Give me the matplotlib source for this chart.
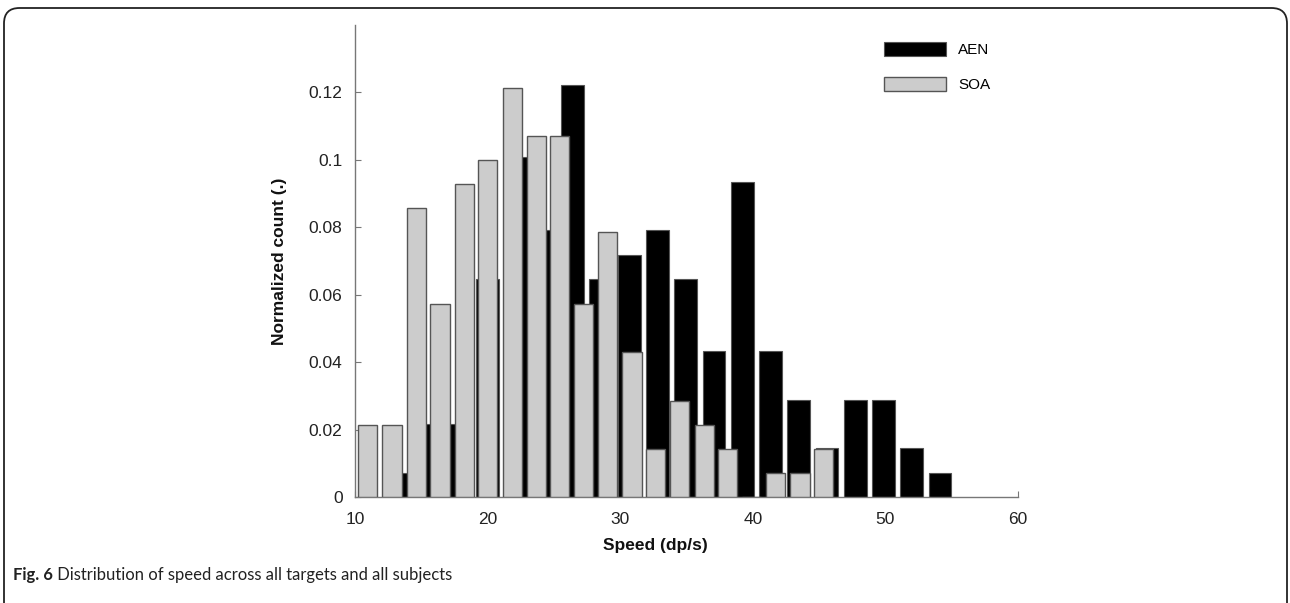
import matplotlib
matplotlib.use("Agg")
import matplotlib.pyplot as plt
from matplotlib.patches import FancyBboxPatch

# ---- data ----
aen_centers = [13.63, 15.76, 17.89, 20.02, 22.15, 24.28, 26.41, 28.54, 30.68, 32.81,
               34.94, 37.07, 39.20, 41.33, 43.46, 45.59, 47.72, 49.85, 51.98, 54.12]
aen_values = [0.0072, 0.0216, 0.0216, 0.0647, 0.1007, 0.0791, 0.1223, 0.0647, 0.0719, 0.0791,
              0.0647, 0.0432, 0.0935, 0.0432, 0.0288, 0.0144, 0.0288, 0.0288, 0.0144, 0.0072]

soa_centers = [10.97, 12.79, 14.62, 16.41, 18.23, 20.02, 21.85, 23.69, 25.42, 27.26,
               29.07, 30.89, 32.65, 34.49, 36.33, 38.09, 39.92, 41.73, 43.56, 45.36]
soa_values = [0.0214, 0.0214, 0.0857, 0.0571, 0.0929, 0.1000, 0.1214, 0.1071, 0.1071, 0.0571,
              0.0786, 0.0429, 0.0143, 0.0286, 0.0214, 0.0143, 0.0, 0.0071, 0.0071, 0.0143]

series_labels = ["AEN", "SOA"]
x_ticks = [10, 20, 30, 40, 50, 60]
y_ticks = [0, 0.02, 0.04, 0.06, 0.08, 0.1, 0.12]
y_tick_labels = ["0", "0.02", "0.04", "0.06", "0.08", "0.1", "0.12"]
x_label = "Speed (dp/s)"
y_label = "Normalized count (.)"
caption_bold = "Fig. 6"
caption_text = " Distribution of speed across all targets and all subjects"

# ---- figure ----
W, H = 1290, 603
fig = plt.figure(figsize=(W / 100, H / 100), dpi=100)
plt.rcParams['font.family'] = ['Liberation Sans', 'DejaVu Sans']

# rounded border around figure
border = FancyBboxPatch((4 / W, -20 / H), (1283 / W), (H - 8 + 20) / H,
                        boxstyle="round,pad=0,rounding_size=0.012",
                        transform=fig.transFigure, fill=False,
                        edgecolor="#222222", linewidth=1.3, mutation_aspect=W / H)
fig.patches.append(border)

ax = fig.add_axes([355 / W, 1 - 497 / H, (1018 - 355) / W, (497 - 25) / H])

ax.bar(aen_centers, aen_values, width=1.72, color="black", edgecolor="#555555",
       linewidth=0.8, label=series_labels[0], zorder=2)
ax.bar(soa_centers, soa_values, width=1.45, color="#cccccc", edgecolor="#555555",
       linewidth=1.0, label=series_labels[1], zorder=3)

ax.set_xlim(10, 60)
ax.set_ylim(0, 0.14)
ax.set_xticks(x_ticks)
ax.set_xticklabels([str(t) for t in x_ticks])
ax.set_yticks(y_ticks)
ax.set_yticklabels(y_tick_labels)

for s in ["top", "right"]:
    ax.spines[s].set_visible(False)
for s in ["left", "bottom"]:
    ax.spines[s].set_color("#777777")
    ax.spines[s].set_linewidth(1.0)

ax.tick_params(direction="in", length=4, width=0.8, color="#777777",
               labelsize=12.5, labelcolor="#222222")
ax.tick_params(axis="x", pad=11)
ax.tick_params(axis="y", pad=9)

ax.set_xlabel(x_label, fontsize=12.5, fontweight="bold", color="#111111")
ax.set_ylabel(y_label, fontsize=12.5, fontweight="bold", color="#111111")
ax.xaxis.set_label_coords((655 - 355) / 663, -(538 - 497) / 472)
ax.yaxis.set_label_coords((287 - 355) / 663, 0.5)

leg = ax.legend(loc="upper left", bbox_to_anchor=(884 / W, 1 - 42 / H),
                bbox_transform=fig.transFigure, frameon=False,
                fontsize=11, handlelength=4.05, handleheight=1.05,
                handletextpad=0.8, labelspacing=1.3, borderpad=0,
                borderaxespad=0)

fig.text(13 / W, 1 - 575 / H, caption_bold, fontsize=12, fontweight="bold",
         family=["Lato", "DejaVu Sans"], va="center", ha="left", color="#222222")
t = fig.text(13 / W, 1 - 575 / H, caption_bold, fontsize=12, fontweight="bold",
             family=["Lato", "DejaVu Sans"], va="center", ha="left", alpha=0)
fig.canvas.draw()
bb = t.get_window_extent()
fig.text(bb.x1 / W, 1 - 575 / H, caption_text, fontsize=12,
         family=["Lato", "DejaVu Sans"], va="center", ha="left", color="#222222")

fig.savefig("out.png", dpi=100)
